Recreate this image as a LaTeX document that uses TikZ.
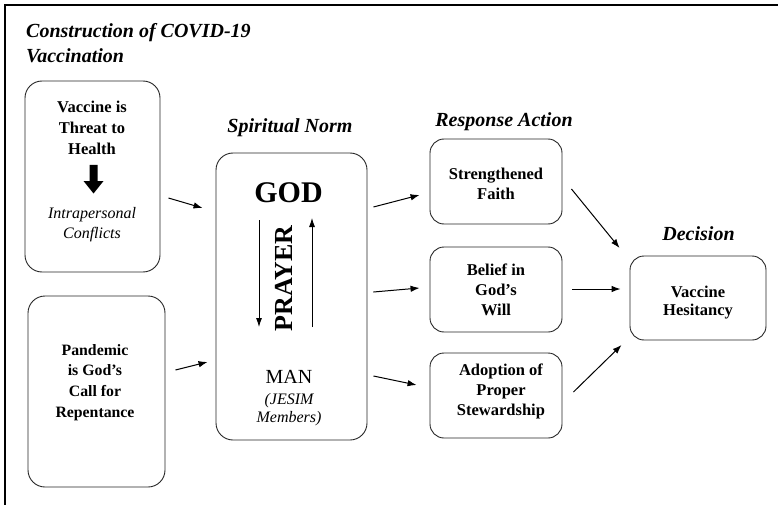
\documentclass[tikz,border=0pt]{standalone}
\usepackage{fontspec}
\setmainfont{Liberation Serif}
\usetikzlibrary{arrows.meta,calc}
\newcommand{\mlines}[3]{\fontsize{#1}{#2}\selectfont\begin{tabular}[t]{@{}c@{}}#3\end{tabular}}
\begin{document}
\begin{tikzpicture}[x=1pt,y=-1pt,
  bigbox/.style={draw=black!85, line width=0.9pt, rounded corners=17pt, inner sep=0pt},
  smallbox/.style={draw=black!85, line width=0.9pt, rounded corners=14pt, inner sep=0pt},
  txt/.style={inner sep=0pt, anchor=base, font=\bfseries},
  head/.style={inner sep=0pt, anchor=base, font=\fontsize{20}{22}\selectfont\bfseries\itshape},
  arr/.style={-{Latex[length=9pt,width=6.5pt]}, line width=1pt},
  thinarr/.style={-{Latex[length=9pt,width=6pt]}, line width=0.8pt}]
\useasboundingbox (0,0) rectangle (778,505);
% frame
\draw[line width=1.4pt] (5,505) -- (5,5) -- (778,5);
% title
\node[head, anchor=base west] (t1) at (26,38) {Construction of COVID-19};
\node[head, anchor=base west] (t2) at (26,63) {Vaccination};
% left boxes
\node[bigbox, minimum width=135pt, minimum height=191pt] (b1) at (92.5,176.5) {};
\node[txt] (b1t) at (92,113) {\mlines{16.5}{21}{Vaccine is\\Threat to\\Health}};
\fill (89.5,165) -- (97.5,165) -- (97.5,181) -- (103.5,181) -- (93.5,193.5) -- (83.5,181) -- (89.5,181) -- cycle;
\node[txt, font=\itshape] (b1c) at (92,218) {\mlines{16}{20}{Intrapersonal\\Conflicts}};
\node[bigbox, minimum width=137pt, minimum height=191pt] (b2) at (96.5,391.5) {};
\node[txt] (b2t) at (95,355) {\mlines{15.8}{20.7}{Pandemic\\is God's\\Call for\\Repentance}};
% spiritual norm
\node[head] (hsn) at (290,133) {Spiritual Norm};
\node[bigbox, minimum width=151pt, minimum height=287pt] (sn) at (291.5,296.5) {};
\node[txt, font=\fontsize{30}{32}\selectfont\bfseries] (god) at (288.5,202) {GOD};
\node[inner sep=0pt, rotate=90, font=\fontsize{26}{28}\selectfont\bfseries] (prayer) at (284,278.5) {PRAYER};
\coordinate (dtop) at (259,220);
\coordinate (dbot) at (259,327);
\coordinate (utop) at (312,218);
\coordinate (ubot) at (312,327);
\draw[thinarr] (dtop) -- (dbot);
\draw[thinarr] (ubot) -- (utop);
\node[txt, font=\fontsize{20}{22}\selectfont] (man) at (289,383) {MAN};
\node[txt, font=\itshape] (jesim) at (289,404) {\mlines{16}{18.5}{(JESIM\\Members)}};
% response action
\node[head] (hra) at (504,127) {Response Action};
\node[smallbox, minimum width=132pt, minimum height=85pt] (r1) at (496,181.5) {};
\node[txt] (r1t) at (496,179) {\mlines{16.5}{20}{Strengthened\\Faith}};
\node[smallbox, minimum width=132pt, minimum height=85pt] (r2) at (496,289.5) {};
\node[txt] (r2t) at (496,275) {\mlines{16.5}{20}{Belief in\\God's\\Will}};
\node[smallbox, minimum width=132pt, minimum height=85pt] (r3) at (496,395.5) {};
\node[txt] (r3t) at (501,375) {\mlines{16.5}{20}{Adoption of\\Proper\\Stewardship}};
% decision
\node[head] (hdec) at (698.5,240) {Decision};
\node[smallbox, minimum width=136pt, minimum height=84pt] (dec) at (698,298) {};
\node[txt] (dect) at (698,297) {\mlines{16.5}{18.5}{Vaccine\\Hesitancy}};
% connectors
\draw[arr] ($(b1.east)+(8,21.5)$) -- ($(sn.west)+(-13,-88.5)$);
\draw[arr] ($(b2.east)+(10,-21.5)$) -- ($(sn.west)+(-8,65.5)$);
\draw[arr] ($(sn.east)+(6,-89.5)$) -- ($(r1.west)+(-10,13.5)$);
\draw[arr] ($(sn.east)+(6,-4.5)$) -- ($(r2.west)+(-10,-1.5)$);
\draw[arr] ($(sn.east)+(6,79.5)$) -- ($(r3.west)+(-13,-10.5)$);
\draw[arr] ($(r1.east)+(9,7.5)$) -- ($(dec.west)+(-10,-50)$);
\draw[arr] ($(r2.east)+(10,-0.5)$) -- ($(dec.west)+(-9,-9)$);
\draw[arr] ($(r3.east)+(11,-3.5)$) -- ($(dec.west)+(-8,47)$);
\end{tikzpicture}
\end{document}
